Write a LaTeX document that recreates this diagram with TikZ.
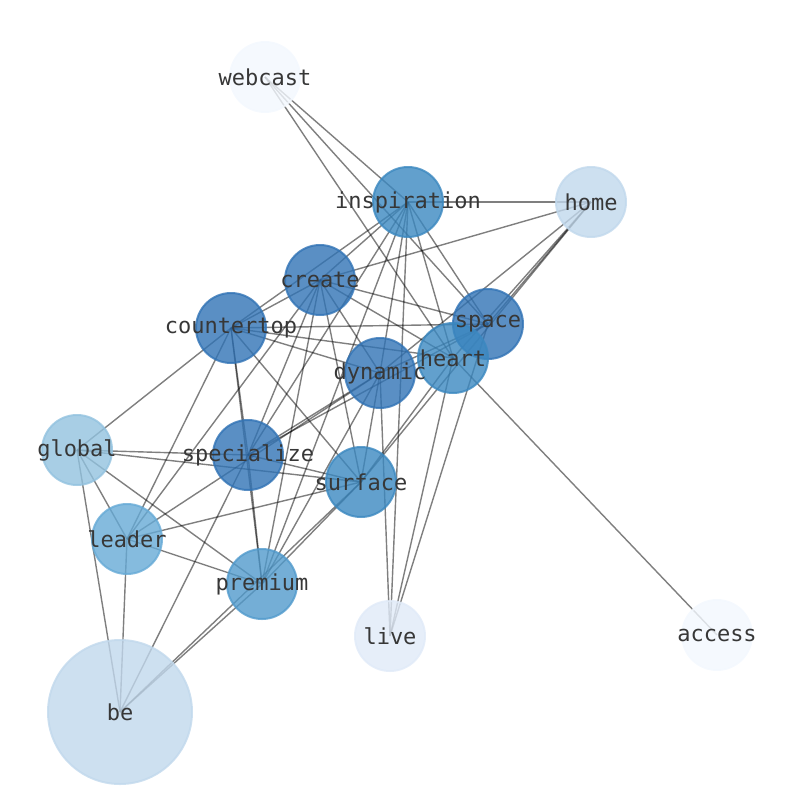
\documentclass[tikz,border=0pt]{standalone}
\usepackage{fontspec}
\setmonofont{DejaVu Sans Mono}
\usetikzlibrary{backgrounds}
\definecolor{cdark}{RGB}{49,115,181}
\definecolor{cmid}{RGB}{59,136,192}
\definecolor{cprem}{RGB}{81,154,204}
\definecolor{clead}{RGB}{102,170,214}
\definecolor{cglob}{RGB}{146,194,223}
\definecolor{chome}{RGB}{193,216,236}
\definecolor{clive}{RGB}{224,234,248}
\definecolor{cweb}{RGB}{243,248,254}
\definecolor{labgray}{RGB}{55,55,55}
\begin{document}
\begin{tikzpicture}[x=1pt,y=-1pt,
  bub/.style={circle,line width=2pt,opacity=0.8,minimum size=70pt,inner sep=0pt},
  dark/.style={bub,fill=cdark,draw=cdark},
  mid/.style={bub,fill=cmid,draw=cmid},
  prem/.style={bub,fill=cprem,draw=cprem},
  lead/.style={bub,fill=clead,draw=clead},
  glob/.style={bub,fill=cglob,draw=cglob},
  homec/.style={bub,fill=chome,draw=chome},
  livec/.style={bub,fill=clive,draw=clive},
  webc/.style={bub,fill=cweb,draw=cweb},
  lab/.style={font=\ttfamily\fontsize{22}{22}\selectfont,text=labgray,inner sep=0pt},
  edge/.style={draw=black,draw opacity=0.5,line width=1.4pt}]
\useasboundingbox (0,0) rectangle (794,790);
% circles
\node[webc] (W) at (265,77) {};
\node[mid] (I) at (408,202) {};
\node[homec] (H) at (591,202) {};
\node[dark] (C) at (320,280) {};
\node[dark] (T) at (231,328) {};
\node[dark] (S) at (488,324) {};
\node[mid] (Ht) at (453,358) {};
\node[dark] (D) at (380,373) {};
\node[glob] (G) at (77,450) {};
\node[dark] (Sp) at (248,455) {};
\node[mid] (Su) at (361,482) {};
\node[lead] (L) at (127,539) {};
\node[prem] (P) at (262,584) {};
\node[livec] (Lv) at (390,636) {};
\node[webc] (A) at (717,635) {};
\node[homec,minimum size=144pt] (B) at (120,712) {};
% edges
\begin{scope}[on background layer]
\foreach \a/\b in {W/I,W/Ht,W/S,
  I/H,I/C,I/T,I/D,I/Ht,I/S,I/Lv,I/Sp,I/P,
  H/C,H/D,H/S,H/Ht,H/Su,
  C/T,C/S,C/Ht,C/D,C/L,C/Sp,C/P,C/Su,
  T/S,T/Ht,T/D,T/G,T/L,T/Sp,T/P,T/Su,
  S/D,S/Sp,S/Lv,
  Ht/Lv,Ht/A,Ht/Su,
  D/Sp,D/Su,D/P,D/Lv,D/L,
  G/Sp,G/Su,G/P,G/L,G/B,
  L/Su,L/P,L/B,
  Sp/Su,Sp/P,
  B/Sp,B/P,B/Su,P/Su}
  \draw[edge] (\a.center) -- (\b.center);
\end{scope}
% labels
\node[lab] (lW) at (W) {webcast};
\node[lab] (lI) at (I) {inspiration};
\node[lab] (lH) at (H) {home};
\node[lab] (lC) at (C) {create};
\node[lab] (lT) at (T) {countertop};
\node[lab] (lS) at (S) {space};
\node[lab] (lHt) at (Ht) {heart};
\node[lab] (lD) at (D) {dynamic};
\node[lab] (lG) at (G) {global};
\node[lab] (lSp) at (Sp) {specialize};
\node[lab] (lSu) at (Su) {surface};
\node[lab] (lL) at (L) {leader};
\node[lab] (lP) at (P) {premium};
\node[lab] (lLv) at (Lv) {live};
\node[lab] (lA) at (A) {access};
\node[lab] (lB) at (B) {be};
\end{tikzpicture}
\end{document}
